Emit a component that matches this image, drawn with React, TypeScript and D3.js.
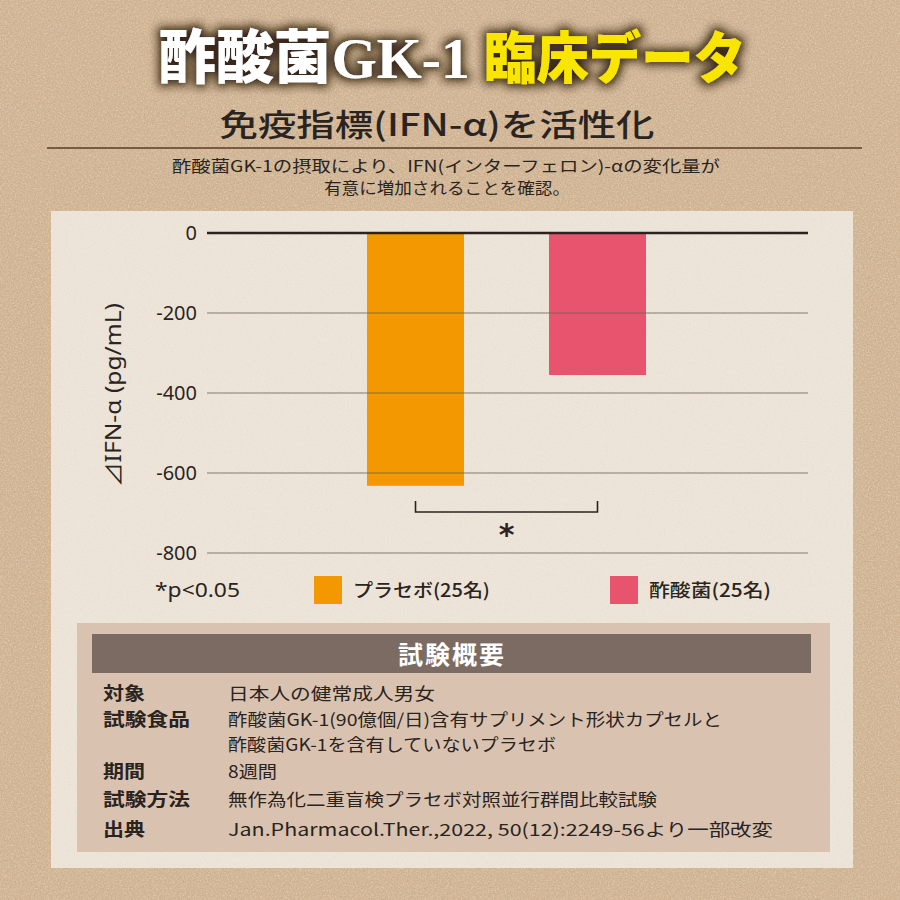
import React from "react";
import * as d3 from "d3";

const categories = ["プラセボ", "酢酸菌"];
const values = [-632, -355];
const barColors = ["#f39800", "#e8546e"];
const yTicks = [0, -200, -400, -600, -800];
const legendLabels = ["プラセボ(25名)", "酢酸菌(25名)"];
const tableLabels = ["対象", "試験食品", "", "期間", "試験方法", "出典"];
const tableValues = [
  "日本人の健常成人男女",
  "酢酸菌GK-1(90億個/日)含有サプリメント形状カプセルと",
  "酢酸菌GK-1を含有していないプラセボ",
  "8週間",
  "無作為化二重盲検プラセボ対照並行群間比較試験",
  "Jan.Pharmacol.Ther.,2022, 50(12):2249-56より一部改変",
];
const tableValueWidths = [207, 494, 328, 49, 429, 545];
const tableLabelWidths = [42, 87, 0, 42, 87, 42];

const JP = "'Noto Sans CJK JP', 'Noto Sans', sans-serif";

export default function App() {
  const y = d3.scaleLinear().domain([0, -800]).range([233, 553]);
  const x = d3.scaleBand<string>().domain(categories).range([367, 646]).paddingInner(0.467).paddingOuter(0);
  const gridX0 = 207;
  const gridX1 = 808;
  const c0 = (x(categories[0]) as number) + x.bandwidth() / 2;
  const c1 = (x(categories[1]) as number) + x.bandwidth() / 2;
  const rowY = [694, 720, 745, 772, 800, 830];

  return (
    <svg width={900} height={900} style={{ position: "absolute", left: 0, top: 0 }} xmlns="http://www.w3.org/2000/svg">
      <defs>
        <filter id="noise" x="0" y="0" width="100%" height="100%">
          <feTurbulence type="fractalNoise" baseFrequency="0.7" numOctaves="3" seed="3" />
          <feColorMatrix type="matrix" values="0 0 0 0 0.45  0 0 0 0 0.32  0 0 0 0 0.2  2.2 0 0 0 -0.95" />
        </filter>
        <filter id="noiseLight" x="0" y="0" width="100%" height="100%">
          <feTurbulence type="fractalNoise" baseFrequency="0.6" numOctaves="2" seed="7" />
          <feColorMatrix type="matrix" values="0 0 0 0 1  0 0 0 0 0.97  0 0 0 0 0.9  2.2 0 0 0 -1.0" />
        </filter>
        <filter id="glow" x="-10%" y="-40%" width="120%" height="180%">
          <feMorphology in="SourceAlpha" operator="dilate" radius="3" result="d" />
          <feGaussianBlur in="d" stdDeviation="5" result="b" />
          <feFlood floodColor="#2a1a0a" floodOpacity="0.9" />
          <feComposite in2="b" operator="in" result="s" />
          <feMerge>
            <feMergeNode in="s" />
            <feMergeNode in="SourceGraphic" />
          </feMerge>
        </filter>
      </defs>

      {/* kraft background */}
      <rect x={0} y={0} width={900} height={900} fill="#d3b796" />
      <rect x={0} y={0} width={900} height={900} filter="url(#noise)" opacity={0.45} />
      <rect x={0} y={0} width={900} height={900} filter="url(#noiseLight)" opacity={0.35} />

      {/* title */}
      <g filter="url(#glow)">
        <text x={158} y={78} fontFamily="'Liberation Serif', 'Noto Sans CJK JP', serif" fontWeight={900} fontSize={58}
          fill="#ffffff" textLength={312} lengthAdjust="spacingAndGlyphs">酢酸菌GK-1</text>
        <text x={484} y={78} fontFamily={JP} fontWeight={900} fontSize={56}
          fill="#f8e500" textLength={262} lengthAdjust="spacingAndGlyphs">臨床データ</text>
      </g>

      {/* subtitle */}
      <text x={437} y={136} textAnchor="middle" fontFamily={JP} fontWeight={500} fontSize={31} fill="#2a2421"
        textLength={435} lengthAdjust="spacingAndGlyphs">免疫指標(IFN-α)を活性化</text>
      <line x1={47} x2={862} y1={148} y2={148} stroke="#7a5a42" strokeWidth={2} />
      <text x={446} y={172} textAnchor="middle" fontFamily={JP} fontSize={16} fill="#2a2421"
        textLength={548} lengthAdjust="spacingAndGlyphs">酢酸菌GK-1の摂取により、IFN(インターフェロン)-αの変化量が</text>
      <text x={447} y={194} textAnchor="middle" fontFamily={JP} fontSize={16} fill="#2a2421"
        textLength={246} lengthAdjust="spacingAndGlyphs">有意に増加されることを確認。</text>

      {/* panel */}
      <rect x={51} y={211} width={802} height={657} fill="#eee5da" />
      <rect x={51} y={211} width={802} height={657} filter="url(#noise)" opacity={0.1} />

      {/* bars */}
      {categories.map((c, i) => (
        <rect key={c} x={x(c)} y={y(0)} width={x.bandwidth()} height={y(values[i]) - y(0)} fill={barColors[i]} />
      ))}

      {/* grid */}
      {yTicks.filter((t) => t !== 0).map((t) => (
        <line key={t} x1={gridX0} x2={gridX1} y1={y(t)} y2={y(t)} stroke="#6e6259" strokeOpacity={0.55} strokeWidth={1.5} />
      ))}
      <line x1={gridX0} x2={gridX1} y1={y(0)} y2={y(0)} stroke="#2b2320" strokeWidth={2.5} />
      {yTicks.map((t) => (
        <text key={t} x={197} y={y(t)} dy="0.35em" textAnchor="end" fontFamily="'Noto Sans', sans-serif" fontSize={20} fill="#2a2421">
          {t}
        </text>
      ))}
      <text transform={`translate(121,395) rotate(-90)`} textAnchor="middle" fontFamily="'Noto Sans', 'Noto Sans CJK JP', sans-serif"
        fontSize={21} fill="#2a2421" textLength={184} lengthAdjust="spacingAndGlyphs">⊿IFN-α (pg/mL)</text>

      {/* significance bracket */}
      <path d={`M${c0},${501}V${512}H${c1}V${501}`} fill="none" stroke="#2b2320" strokeWidth={1.6} />
      <text x={(c0 + c1) / 2} y={545} textAnchor="middle" fontFamily="'DejaVu Sans', sans-serif" fontWeight={700} fontSize={30} fill="#2b2320">*</text>

      {/* legend */}
      <text x={155} y={597} fontFamily="'Noto Sans', sans-serif" fontSize={19} fill="#2a2421" textLength={85} lengthAdjust="spacingAndGlyphs">*p&lt;0.05</text>
      <rect x={314} y={576} width={28} height={28} fill={barColors[0]} />
      <text x={353} y={597} fontFamily={JP} fontWeight={500} fontSize={18} fill="#2a2421" textLength={137} lengthAdjust="spacingAndGlyphs">{legendLabels[0]}</text>
      <rect x={610} y={576} width={28} height={28} fill={barColors[1]} />
      <text x={649} y={597} fontFamily={JP} fontWeight={500} fontSize={18} fill="#2a2421" textLength={122} lengthAdjust="spacingAndGlyphs">{legendLabels[1]}</text>

      {/* study summary */}
      <rect x={77} y={623} width={753} height={229} fill="#d9c3b0" />
      <rect x={92} y={634} width={719} height={39} fill="#7b6b62" />
      <text x={452} y={664} textAnchor="middle" fontFamily={JP} fontWeight={700} fontSize={25} fill="#ffffff" letterSpacing={2}>試験概要</text>
      {tableLabels.map((l, i) =>
        l ? (
          <text key={"l" + i} x={103} y={rowY[i] + 6} fontFamily={JP} fontWeight={700} fontSize={18} fill="#2a2421"
            textLength={tableLabelWidths[i]} lengthAdjust="spacingAndGlyphs">{l}</text>
        ) : null
      )}
      {tableValues.map((v, i) => (
        <text key={"v" + i} x={228} y={rowY[i] + 6} fontFamily={JP} fontSize={17} fill="#2a2421"
          textLength={tableValueWidths[i]} lengthAdjust="spacingAndGlyphs">{v}</text>
      ))}
    </svg>
  );
}
